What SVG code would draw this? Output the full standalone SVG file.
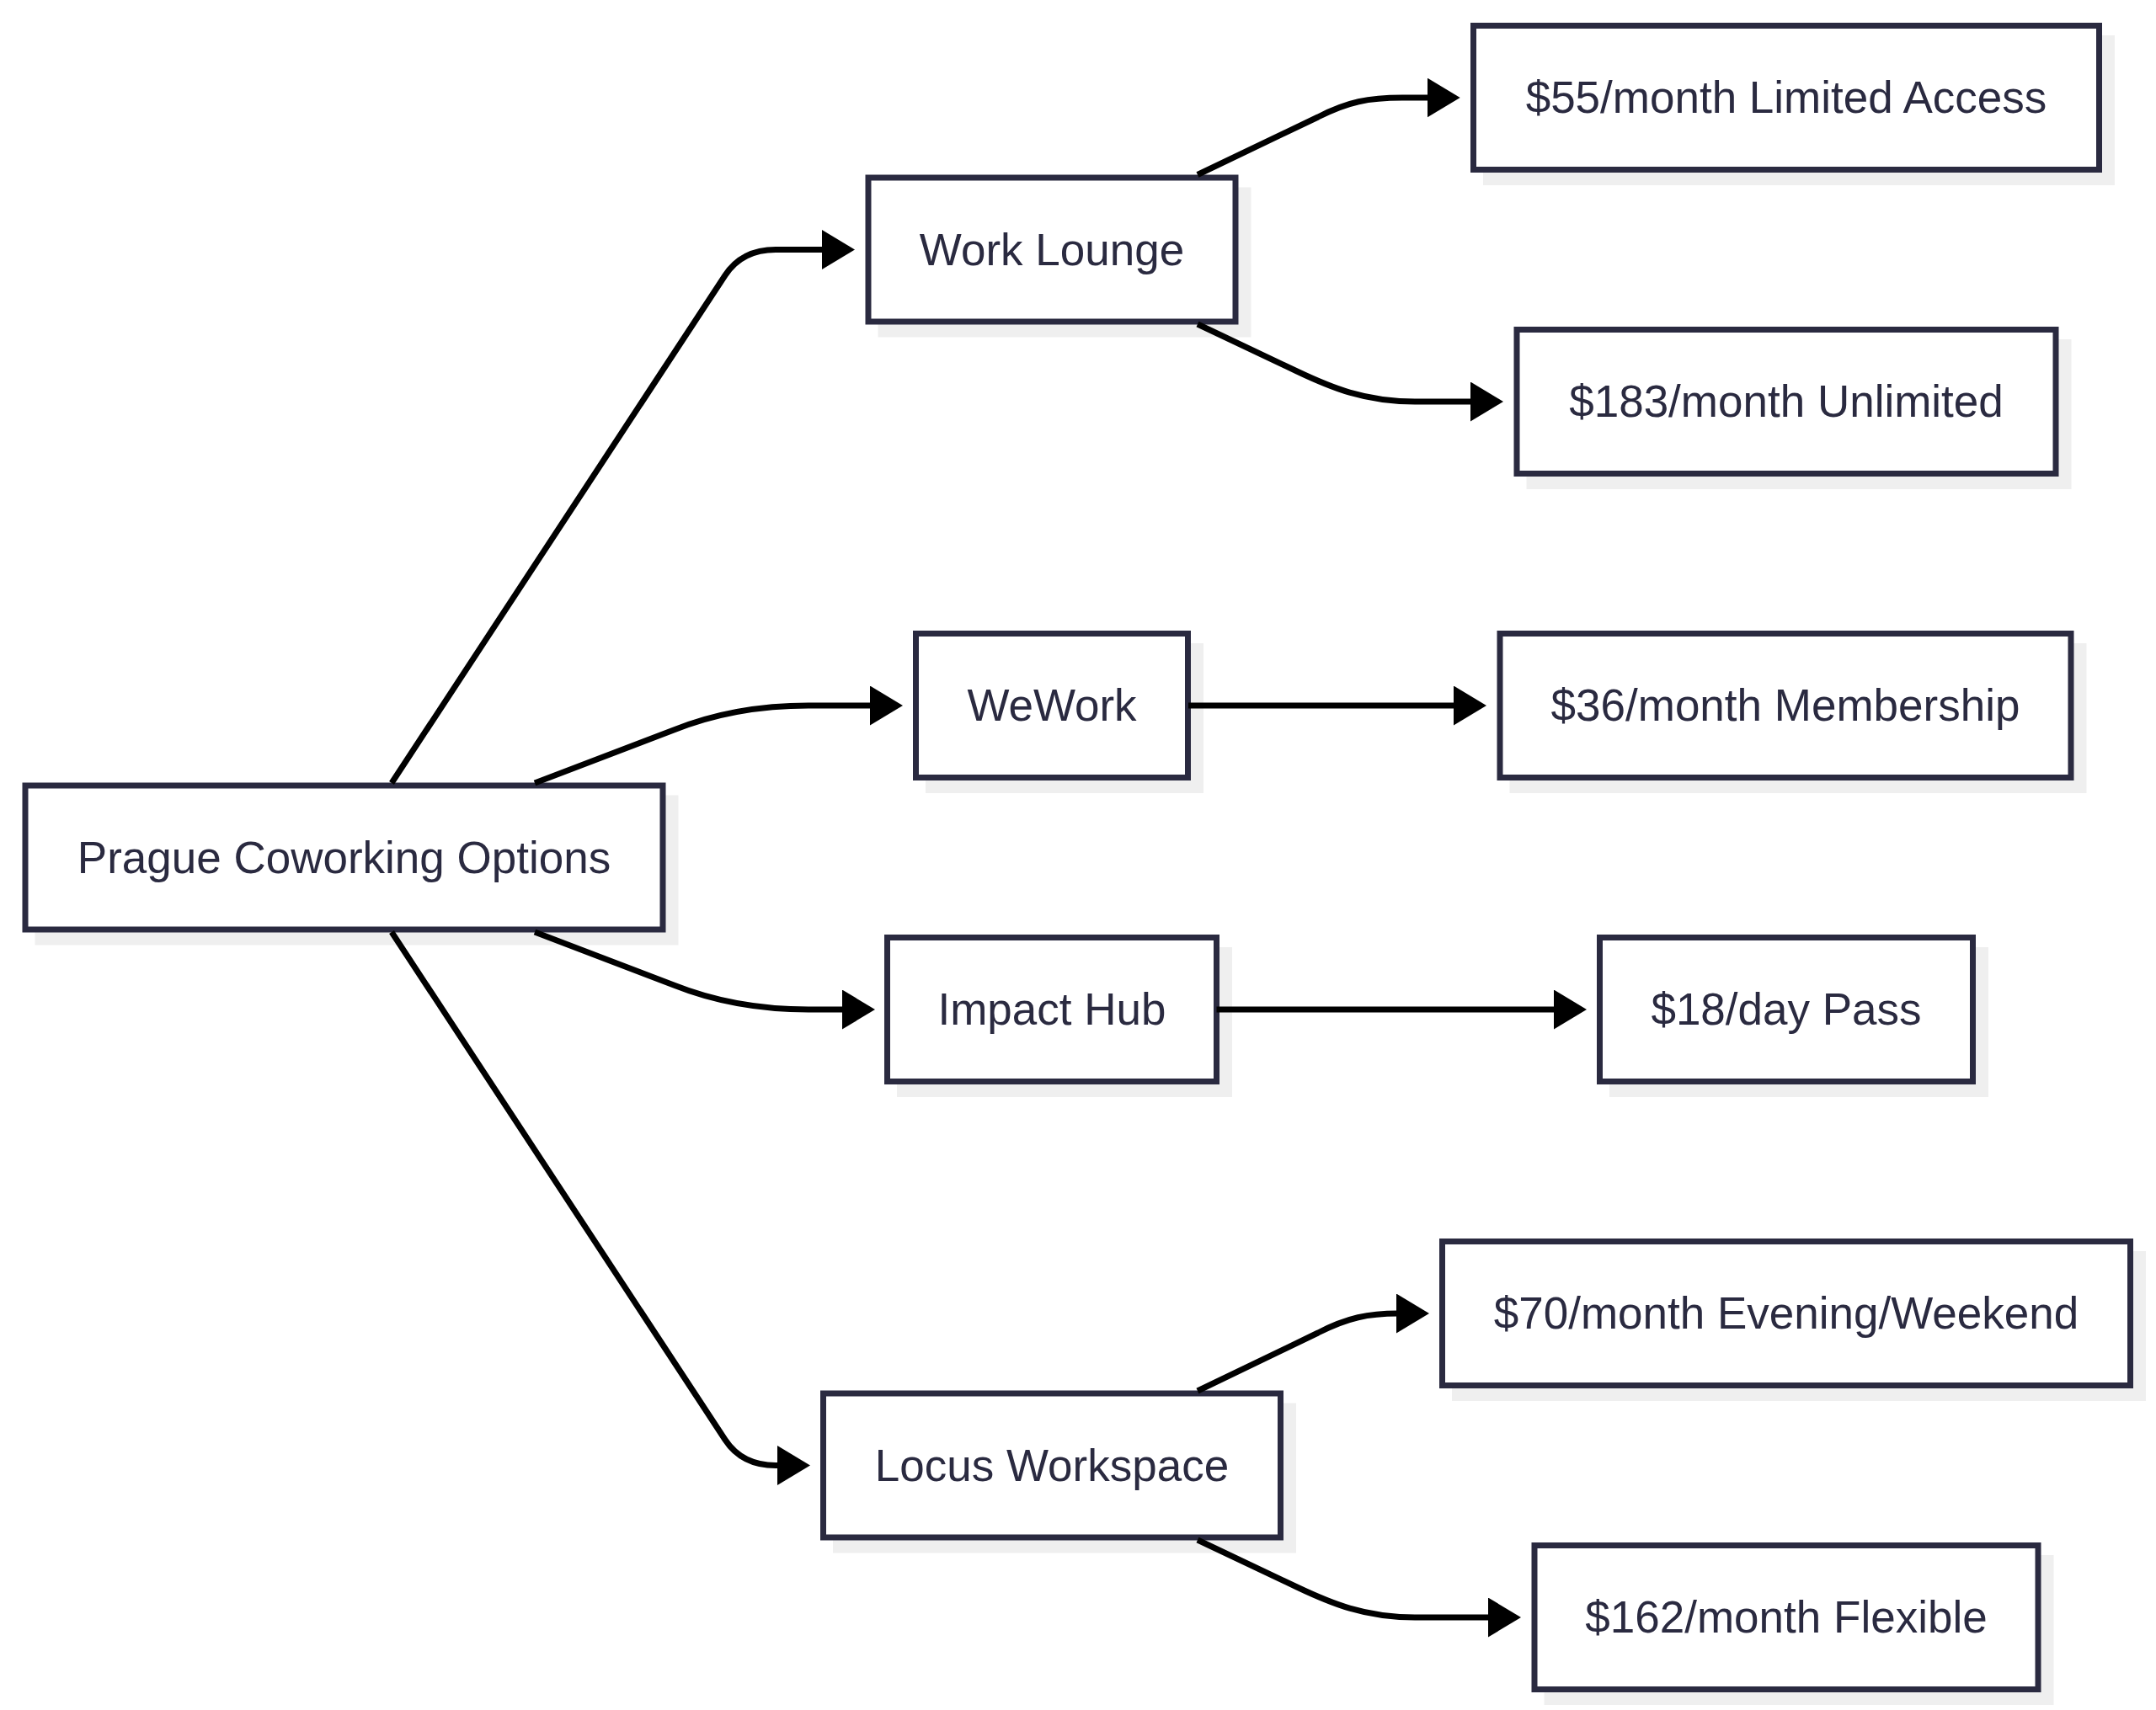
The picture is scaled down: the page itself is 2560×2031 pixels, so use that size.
<svg xmlns="http://www.w3.org/2000/svg" width="2560" height="2031" viewBox="0 0 2560 2031">
<style>
.shadow{fill:#efefef;stroke:none}
.box{fill:#ffffff;stroke:#2a2a40;stroke-width:7}
.lbl{font-family:"Liberation Sans",Arial,sans-serif;font-size:53px;fill:#2a2a40;text-anchor:middle}
.edge{fill:none;stroke:#000000;stroke-width:7;marker-end:url(#arrow)}
</style>
<defs>
<marker id="arrow" markerUnits="userSpaceOnUse" viewBox="0 0 39 47" markerWidth="39" markerHeight="47" refX="3" refY="23.5" orient="auto">
<path d="M0,0 L39,23.5 L0,47 z" fill="#000000"/>
</marker>
</defs>
<rect width="2560" height="2031" fill="#ffffff"/>
<g id="root">
<rect class="shadow" x="41.5" y="944.5" width="764" height="178"/>
<rect class="box" x="30" y="933" width="757" height="171"/>
<text class="lbl" x="408.5" y="1036.5">Prague Coworking Options</text>
</g>
<g id="work-lounge">
<rect class="shadow" x="1042.5" y="222.5" width="443" height="178"/>
<rect class="box" x="1031" y="211" width="436" height="171"/>
<text class="lbl" x="1249" y="314.5">Work Lounge</text>
</g>
<g id="wework">
<rect class="shadow" x="1099" y="764" width="330" height="178"/>
<rect class="box" x="1087.5" y="752.5" width="323" height="171"/>
<text class="lbl" x="1249" y="856">WeWork</text>
</g>
<g id="impact-hub">
<rect class="shadow" x="1065" y="1125" width="398" height="178"/>
<rect class="box" x="1053.5" y="1113.5" width="391" height="171"/>
<text class="lbl" x="1249" y="1217">Impact Hub</text>
</g>
<g id="locus-workspace">
<rect class="shadow" x="989" y="1666.5" width="550" height="178"/>
<rect class="box" x="977.5" y="1655" width="543" height="171"/>
<text class="lbl" x="1249" y="1758.5">Locus Workspace</text>
</g>
<g id="wl-limited">
<rect class="shadow" x="1761" y="42" width="750" height="178"/>
<rect class="box" x="1749.5" y="30.5" width="743" height="171"/>
<text class="lbl" x="2121" y="134">$55/month Limited Access</text>
</g>
<g id="wl-unlimited">
<rect class="shadow" x="1812.5" y="403" width="647" height="178"/>
<rect class="box" x="1801" y="391.5" width="640" height="171"/>
<text class="lbl" x="2121" y="495">$183/month Unlimited</text>
</g>
<g id="ww-membership">
<rect class="shadow" x="1792.5" y="764" width="685" height="178"/>
<rect class="box" x="1781" y="752.5" width="678" height="171"/>
<text class="lbl" x="2120" y="856">$36/month Membership</text>
</g>
<g id="ih-daypass">
<rect class="shadow" x="1911" y="1125" width="450" height="178"/>
<rect class="box" x="1899.5" y="1113.5" width="443" height="171"/>
<text class="lbl" x="2121" y="1217">$18/day Pass</text>
</g>
<g id="lw-evening">
<rect class="shadow" x="1724" y="1486" width="824" height="178"/>
<rect class="box" x="1712.5" y="1474.5" width="817" height="171"/>
<text class="lbl" x="2121" y="1578">$70/month Evening/Weekend</text>
</g>
<g id="lw-flexible">
<rect class="shadow" x="1833.5" y="1847" width="605" height="178"/>
<rect class="box" x="1822" y="1835.5" width="598" height="171"/>
<text class="lbl" x="2121" y="1939">$162/month Flexible</text>
</g>
<g id="connectors">
<path class="edge" d="M465,930 L861,327 Q881,296.5 921,296.5 L979,296.5"/>
<path class="edge" d="M635,930 L800,867 C850,847 900,838 960,838 L1036,838"/>
<path class="edge" d="M635,1107 L800,1170 C850,1190 900,1199 960,1199 L1003,1199"/>
<path class="edge" d="M465,1107 L861,1710 Q881,1740.5 921,1740.5 L926,1740.5"/>
<path class="edge" d="M1422,207.5 L1565,139 C1600,121 1625,116 1665,116 L1697.7,116"/>
<path class="edge" d="M1422,385 L1540,441 C1580,460 1620,477 1680,477 L1749,477"/>
<path class="edge" d="M1411,838 L1729,838"/>
<path class="edge" d="M1444.5,1199 L1848,1199"/>
<path class="edge" d="M1422,1652 L1565,1583 C1600,1565 1625,1560 1660,1560 L1661,1560"/>
<path class="edge" d="M1422,1829 L1540,1885 C1580,1904 1620,1921 1680,1921 L1770,1921"/>
</g>
</svg>
